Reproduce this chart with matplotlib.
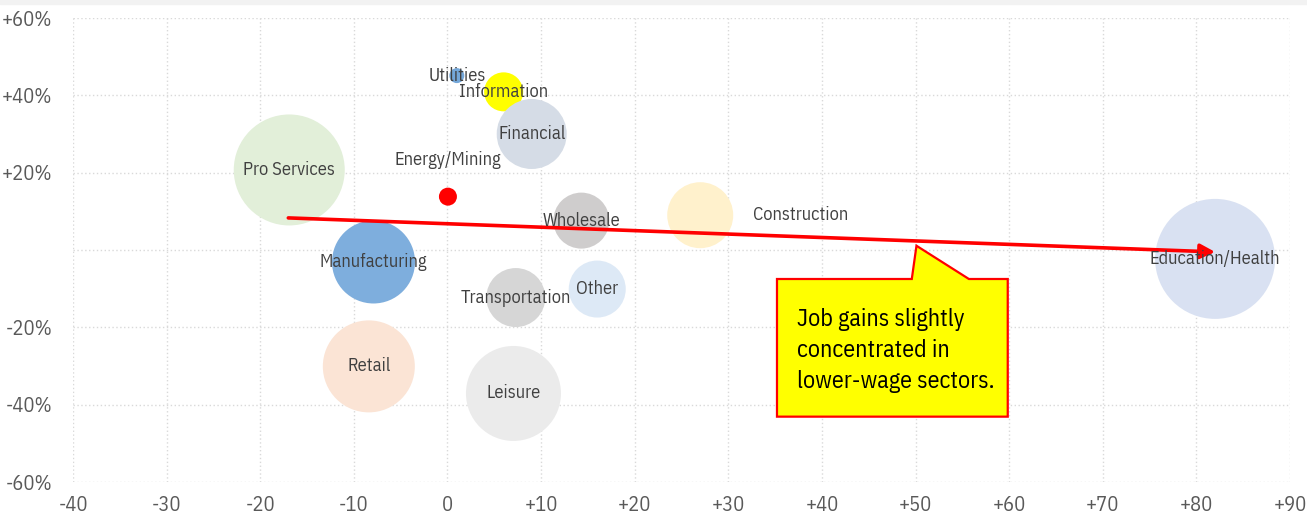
import matplotlib
matplotlib.use("Agg")
import matplotlib.pyplot as plt
from matplotlib.patches import Polygon, Rectangle
from matplotlib.ticker import FuncFormatter, MultipleLocator

plt.rcParams['font.family'] = ['IBM Plex Sans Condensed', 'DejaVu Sans']

# sectors: job change (thousands) vs wage growth (%)
sectors = ['Utilities', 'Information', 'Financial', 'Energy/Mining', 'Pro Services',
           'Wholesale', 'Construction', 'Manufacturing', 'Transportation', 'Other',
           'Retail', 'Leisure', 'Education/Health']
job_change = [1.0, 6.0, 9.0, 0.05, -16.9, 14.3, 27.0, -7.9, 7.3, 16.0, -8.4, 7.05, 82.0]
wage_change = [45.1, 40.9, 30.0, 13.8, 20.7, 7.6, 9.0, -3.1, -12.3, -10.1, -30.1, -37.1, -2.3]
bubble_d = [15, 39, 70, 18, 111, 56, 66, 83, 59, 57, 92, 95, 120]
colors = ['#74a7d9', '#ffff00', '#d5dce6', '#ff0000', '#e2efd9', '#cfcdcd', '#fff1cc',
          '#7eaedd', '#d6d6d6', '#dde9f6', '#fbe4d5', '#ebebeb', '#d9e1f2']

trend_x = [-17.0, 82.0]
trend_y = [8.3, -0.5]

fig = plt.figure(figsize=(13.07, 5.14), dpi=100)
ax = fig.add_axes([73 / 1307, 1 - 482 / 514, (1290 - 73) / 1307, (482 - 18) / 514])

# grey strip at top (cut-off header)
fig.patches.append(Rectangle((0, 1 - 4 / 514), 1, 4 / 514, transform=fig.transFigure,
                             color='#f2f2f2', zorder=0))

sizes = [(d * 0.72) ** 2 for d in bubble_d]
ax.scatter(job_change, wage_change, s=sizes, c=colors, edgecolors='none', zorder=2)

# labels
for name, x, y in zip(sectors, job_change, wage_change):
    ha = 'center'
    dx, dy = 0, 0
    if name == 'Energy/Mining':
        dy = 9.5
    elif name == 'Construction':
        ha = 'left'
        dx = 5.6
    ax.text(x + dx, y + dy, name, ha=ha, va='center', fontsize=13.2, color='#404040', zorder=5)

# trend arrow
ax.annotate('', xy=(trend_x[1], trend_y[1]), xytext=(trend_x[0], trend_y[0]),
            arrowprops=dict(arrowstyle='-|>', color='#ff0000', lw=2.6,
                            mutation_scale=22, shrinkA=0, shrinkB=0), zorder=4)

# callout
callout = Polygon([(35.2, -7.5), (49.6, -7.5), (50.1, 1.1), (55.7, -7.5), (59.85, -7.5),
                   (59.85, -43.1), (35.2, -43.1)], closed=True,
                  facecolor='#ffff00', edgecolor='#ff0000', lw=1.6, zorder=6)
ax.add_patch(callout)
ax.text(37.3, -25.9, 'Job gains slightly\nconcentrated in\nlower-wage sectors.',
        ha='left', va='center', fontsize=17.3, color='black', linespacing=1.45, zorder=7)

ax.set_xlim(-40, 90)
ax.set_ylim(-60, 60)
ax.xaxis.set_major_locator(MultipleLocator(10))
ax.yaxis.set_major_locator(MultipleLocator(20))
ax.xaxis.set_major_formatter(FuncFormatter(lambda v, p: f'+{v:.0f}' if v > 0 else f'{v:.0f}'))
ax.yaxis.set_major_formatter(FuncFormatter(
    lambda v, p: '' if abs(v) < 1e-9 else (f'+{v:.0f}%' if v > 0 else f'{v:.0f}%')))
ax.tick_params(length=0, labelsize=14.8, colors='#595959')
ax.tick_params(axis='x', pad=10)
ax.tick_params(axis='y', pad=15)
ax.grid(True, color='#d9d9d9', linestyle=(0, (1.0, 1.8)), lw=1.0, zorder=0)
ax.set_axisbelow(True)
for s in ax.spines.values():
    s.set_visible(False)

fig.savefig('out.png', dpi=100)
